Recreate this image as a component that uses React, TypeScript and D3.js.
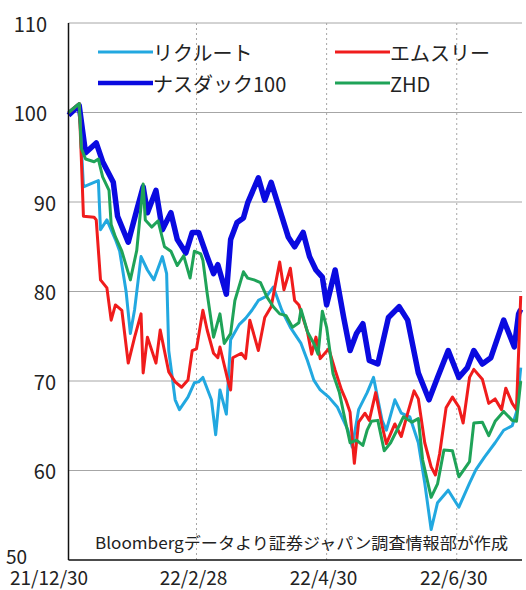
import React from 'react';
import * as d3 from 'd3';

// values (index, 21/12/30 = 100)
const yTicks = [50, 60, 70, 80, 90, 100, 110];
const xTickLabels = ['21/12/30', '22/2/28', '22/4/30', '22/6/30'];
const seriesNames = ['リクルート', 'エムスリー', 'ナスダック100', 'ZHD'];
const sourceNote = 'Bloombergデータより証券ジャパン調査情報部が作成';

const recruit: [string, number][] = [
  ['12/30', 100], ['1/4', 101], ['1/6', 91.7], ['1/11', 92.2], ['1/13', 92.4], ['1/14', 86.9],
  ['1/17', 88.0], ['1/21', 85.8], ['1/23', 84.5], ['1/26', 80.0], ['1/28', 75.3], ['1/30', 78.0],
  ['2/2', 83.9], ['2/5', 82.4], ['2/8', 81.3], ['2/12', 83.9], ['2/14', 82.0], ['2/15', 73.4],
  ['2/18', 67.9], ['2/20', 66.8], ['2/24', 68.2], ['2/27', 69.8], ['3/1', 69.9], ['3/3', 70.4],
  ['3/7', 67.9], ['3/9', 64.0], ['3/11', 69.0], ['3/14', 66.3], ['3/16', 74.6], ['3/20', 76.3],
  ['3/23', 77.0], ['3/26', 77.9], ['3/29', 79.0], ['4/2', 79.5], ['4/5', 80.5], ['4/9', 77.9],
  ['4/13', 76.0], ['4/18', 74.2], ['4/21', 72.3], ['4/24', 70.1], ['4/27', 69.0], ['5/1', 68.2],
  ['5/5', 67.1], ['5/10', 64.5], ['5/12', 62.6], ['5/15', 66.8], ['5/19', 68.7], ['5/22', 70.4],
  ['5/26', 65.6], ['5/28', 64.5], ['6/1', 67.9], ['6/4', 66.4], ['6/8', 66.0], ['6/12', 63.1],
  ['6/15', 58.6], ['6/18', 53.4], ['6/21', 56.4], ['6/26', 57.8], ['7/1', 55.9], ['7/6', 58.6],
  ['7/9', 60.1], ['7/13', 61.5], ['7/18', 63.1], ['7/22', 64.5], ['7/26', 65.0], ['7/28', 66.5],
  ['7/30', 71.5],
];

const m3: [string, number][] = [
  ['12/30', 100], ['1/4', 101], ['1/5', 95], ['1/6', 88.4], ['1/11', 88.3], ['1/12', 88.0],
  ['1/14', 81.3], ['1/17', 80.4], ['1/19', 76.8], ['1/21', 78.5], ['1/24', 77.9], ['1/27', 72.0],
  ['1/30', 74.9], ['2/2', 77.5], ['2/3', 70.9], ['2/5', 74.9], ['2/9', 72.0], ['2/11', 75.7],
  ['2/15', 71.0], ['2/18', 69.9], ['2/21', 69.3], ['2/24', 70.1], ['2/26', 73.4], ['2/28', 73.6],
  ['3/3', 77.9], ['3/5', 75.7], ['3/8', 73.1], ['3/10', 72.6], ['3/11', 73.8], ['3/15', 69.8],
  ['3/16', 69.0], ['3/17', 72.6], ['3/21', 73.1], ['3/23', 72.5], ['3/25', 76.8], ['3/29', 73.4],
  ['4/1', 77.1], ['4/4', 78.3], ['4/8', 83.3], ['4/10', 80.2], ['4/13', 82.6], ['4/15', 79.0],
  ['4/17', 78.5], ['4/19', 77.0], ['4/21', 75.5], ['4/23', 73.0], ['4/25', 74.9], ['4/27', 72.5],
  ['5/1', 73.6], ['5/4', 71.2], ['5/7', 69.0], ['5/9', 67.9], ['5/11', 66.5], ['5/13', 60.8],
  ['5/15', 65.4], ['5/18', 66.4], ['5/20', 65.6], ['5/23', 68.7], ['5/26', 65.0], ['5/28', 63.0],
  ['6/1', 65.2], ['6/4', 63.8], ['6/7', 66.4], ['6/10', 68.9], ['6/12', 68.0], ['6/15', 63.1],
  ['6/18', 60.4], ['6/20', 59.5], ['6/22', 61.9], ['6/25', 67.0], ['6/28', 68.2], ['7/1', 67.1],
  ['7/3', 65.3], ['7/6', 70.4], ['7/8', 71.3], ['7/12', 70.2], ['7/15', 67.5], ['7/18', 68.0],
  ['7/21', 66.8], ['7/23', 69.2], ['7/26', 67.5], ['7/28', 66.8], ['7/30', 79.5],
];

const nasdaq: [string, number][] = [
  ['12/30', 99.7], ['1/4', 100.8], ['1/7', 95.5], ['1/12', 96.6], ['1/15', 94.5], ['1/20', 92.2],
  ['1/22', 88.4], ['1/27', 85.5], ['1/31', 89.1], ['2/3', 91.7], ['2/5', 88.8], ['2/9', 91.3],
  ['2/12', 86.9], ['2/16', 88.8], ['2/19', 85.8], ['2/23', 84.3], ['2/26', 86.6], ['3/1', 86.6],
  ['3/5', 83.9], ['3/8', 82.0], ['3/10', 83.0], ['3/14', 79.7], ['3/16', 85.8], ['3/19', 87.7],
  ['3/22', 88.2], ['3/24', 89.9], ['3/29', 92.7], ['4/1', 90.2], ['4/4', 92.2], ['4/9', 88.4],
  ['4/12', 86.1], ['4/15', 85.0], ['4/19', 86.6], ['4/22', 83.9], ['4/25', 82.4], ['4/28', 81.6],
  ['4/30', 78.5], ['5/4', 82.4], ['5/8', 77.1], ['5/11', 73.4], ['5/14', 75.3], ['5/17', 76.4],
  ['5/20', 72.3], ['5/24', 71.9], ['5/29', 77.1], ['6/3', 78.3], ['6/7', 76.8], ['6/12', 70.9],
  ['6/17', 67.9], ['6/21', 70.4], ['6/26', 73.4], ['7/1', 70.4], ['7/5', 71.5], ['7/8', 73.4],
  ['7/12', 71.9], ['7/16', 72.6], ['7/22', 76.8], ['7/27', 73.8], ['7/29', 77.5], ['7/30', 78.0],
];

const zhd: [string, number][] = [
  ['12/30', 100], ['1/4', 101], ['1/5', 96], ['1/7', 94.8], ['1/11', 94.5], ['1/13', 94.8],
  ['1/15', 92.8], ['1/18', 91.3], ['1/19', 87.5], ['1/21', 86.1], ['1/24', 84.5], ['1/28', 81.3],
  ['1/31', 84.6], ['2/3', 92.0], ['2/4', 88.0], ['2/7', 87.2], ['2/10', 87.9], ['2/13', 85.0],
  ['2/16', 84.5], ['2/19', 82.9], ['2/22', 84.0], ['2/25', 81.5], ['2/27', 84.5], ['3/2', 84.2],
  ['3/3', 83.5], ['3/5', 79.8], ['3/8', 74.9], ['3/11', 77.5], ['3/13', 74.2], ['3/16', 75.3],
  ['3/18', 79.0], ['3/22', 82.2], ['3/24', 81.5], ['3/27', 81.3], ['3/30', 81.0], ['4/2', 79.4],
  ['4/5', 78.3], ['4/8', 77.5], ['4/11', 77.3], ['4/14', 76.0], ['4/17', 76.5], ['4/18', 78.0],
  ['4/21', 75.5], ['4/24', 74.2], ['4/26', 73.0], ['4/28', 77.8], ['4/30', 76.0], ['5/3', 70.8],
  ['5/6', 68.7], ['5/8', 66.4], ['5/11', 63.1], ['5/14', 63.4], ['5/17', 62.8], ['5/19', 64.5],
  ['5/21', 65.5], ['5/24', 65.6], ['5/27', 62.2], ['5/30', 63.1], ['6/3', 65.0], ['6/5', 66.0],
  ['6/9', 65.4], ['6/12', 65.8], ['6/14', 61.2], ['6/18', 57.0], ['6/21', 58.5], ['6/24', 62.3],
  ['6/28', 62.2], ['7/1', 59.3], ['7/6', 61.0], ['7/8', 65.3], ['7/12', 65.4], ['7/15', 63.9],
  ['7/18', 65.5], ['7/22', 66.6], ['7/26', 65.6], ['7/28', 65.5], ['7/30', 70.0],
];

const parseDay = d3.timeParse('%y/%m/%d');
const toDate = (md: string) => parseDay((md.startsWith('12/') ? '21/' : '22/') + md) as Date;

const FONT = "'Noto Sans CJK JP', 'Noto Sans', sans-serif";
const TEXT = '#222';
const GRID = '#a6a6a6';

const App: React.FC = () => {
  const width = 526;
  const height = 590;
  const left = 68.5;
  const right = 522;

  const x = d3.scaleTime()
    .domain([parseDay('21/12/30') as Date, parseDay('22/8/1') as Date])
    .range([left, 525]);
  const y = d3.scaleLinear().domain([50, 110]).range([560, 23]);

  const line = d3.line<[string, number]>()
    .x(d => x(toDate(d[0])))
    .y(d => y(d[1]));

  // drawing order: nasdaq underneath
  const series = [
    { data: nasdaq, color: '#0a0ae0', width: 5.5 },
    { data: recruit, color: '#22a8e0', width: 3 },
    { data: m3, color: '#f01c1c', width: 3 },
    { data: zhd, color: '#1fa358', width: 3 },
  ];

  const legend = [
    { name: seriesNames[0], color: '#22a8e0', w: 3, x0: 98, x1: 153, yy: 52 },
    { name: seriesNames[1], color: '#f01c1c', w: 3, x0: 335, x1: 390, yy: 52 },
    { name: seriesNames[2], color: '#0a0ae0', w: 4.5, x0: 98, x1: 153, yy: 83 },
    { name: seriesNames[3], color: '#1fa358', w: 3, x0: 335, x1: 390, yy: 83 },
  ];

  const tickDates = xTickLabels.map(s => parseDay(s) as Date);

  return (
    <svg width={width} height={height} style={{ position: 'absolute', left: 0, top: 0, background: '#fff' }}
      fontFamily={FONT}>
      <rect width={width} height={height} fill="#fff" />

      {/* horizontal grid */}
      {yTicks.filter(v => v > 50).map(v => (
        <line key={v} x1={left} x2={right} y1={y(v)} y2={y(v)} stroke={GRID} strokeWidth={1} />
      ))}
      {/* vertical dotted grid */}
      {tickDates.slice(1).map((d, i) => (
        <line key={i} x1={x(d)} x2={x(d)} y1={y(110)} y2={y(50)} stroke={GRID} strokeWidth={1}
          strokeDasharray="2,3" />
      ))}

      {/* source note */}
      <text x={95} y={542} fontSize={16} fill={TEXT} dominantBaseline="central"
        textLength={413} lengthAdjust="spacingAndGlyphs">{sourceNote}</text>

      {/* lines */}
      {series.map((s, i) => (
        <path key={i} d={line(s.data) || ''} fill="none" stroke={s.color} strokeWidth={s.width}
          strokeLinejoin="round" />
      ))}

      {/* axes */}
      <line x1={left} x2={left} y1={y(110)} y2={y(50)} stroke="#111" strokeWidth={1.5} />
      <line x1={left} x2={right} y1={y(50)} y2={y(50)} stroke="#111" strokeWidth={1.5} />

      {/* y labels */}
      {yTicks.map(v => (
        <text key={v} x={v >= 100 ? 47 : v === 50 ? 27 : 56} y={v === 50 ? y(v) - 5 : y(v)} textAnchor="end"
          dominantBaseline="central" fontSize={v === 50 ? 19 : 20} fill={TEXT}>{v}</text>
      ))}

      {/* x labels */}
      {xTickLabels.map((s, i) => (
        <text key={s} x={i === 0 ? 10 : x(tickDates[i]) - 3} y={576} textAnchor={i === 0 ? 'start' : 'middle'}
          dominantBaseline="central" fontSize={19} fill={TEXT}>{s}</text>
      ))}

      {/* legend */}
      {legend.map(l => (
        <g key={l.name}>
          <line x1={l.x0} x2={l.x1} y1={l.yy} y2={l.yy} stroke={l.color} strokeWidth={l.w} />
          <text x={l.x1} y={l.yy} dominantBaseline="central" fontSize={20} fill={TEXT}>{l.name}</text>
        </g>
      ))}
    </svg>
  );
};

export default App;
